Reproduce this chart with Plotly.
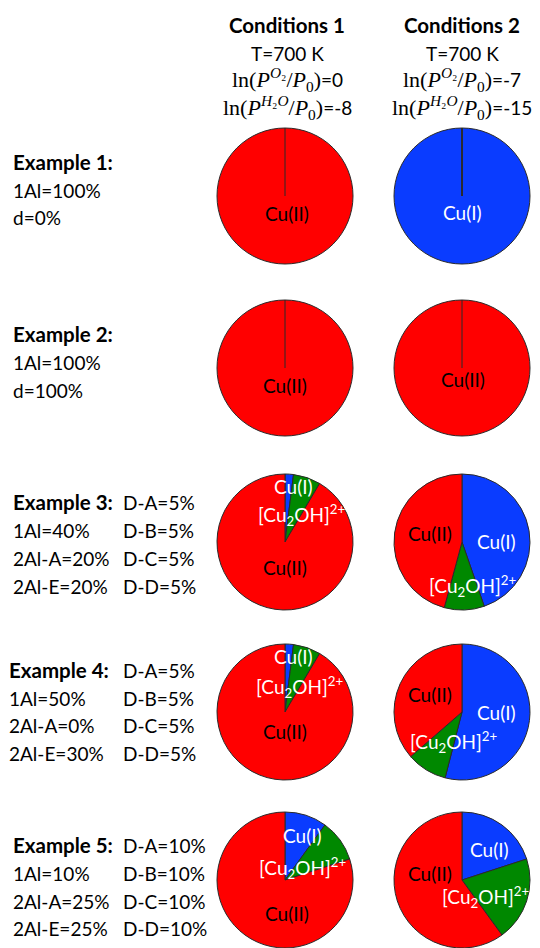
import plotly.graph_objects as go

# ---------------- data ----------------
species = ["Cu(I)", "[Cu2OH]2+", "Cu(II)"]
species_html = ["Cu(I)", "[Cu<sub>2</sub>OH]<sup>2+</sup>", "Cu(II)"]
examples = ["Example 1", "Example 2", "Example 3", "Example 4", "Example 5"]

# shares (%) under Conditions 1, one entry per example
cond1_cu1 = [0, 0, 2, 2, 10]
cond1_cu2oh = [0, 0, 6.5, 6.5, 10]
cond1_cu2 = [100, 100, 91.5, 91.5, 80]

# shares (%) under Conditions 2
cond2_cu1 = [100, 0, 44.7, 54, 20]
cond2_cu2oh = [0, 0, 9.5, 9.6, 20]
cond2_cu2 = [0, 100, 45.8, 36.4, 60]

condition_titles = ["Conditions 1", "Conditions 2"]
condition_T = ["T=700 K", "T=700 K"]
condition_lnO2 = ["0", "-7"]
condition_lnH2O = ["-8", "-15"]

example_lines_left = [
    ["Example 1:", "1Al=100%", "d=0%"],
    ["Example 2:", "1Al=100%", "d=100%"],
    ["Example 3:", "1Al=40%", "2Al-A=20%", "2Al-E=20%"],
    ["Example 4:", "1Al=50%", "2Al-A=0%", "2Al-E=30%"],
    ["Example 5:", "1Al=10%", "2Al-A=25%", "2Al-E=25%"],
]
example_lines_right = [
    [],
    [],
    ["D-A=5%", "D-B=5%", "D-C=5%", "D-D=5%"],
    ["D-A=5%", "D-B=5%", "D-C=5%", "D-D=5%"],
    ["D-A=10%", "D-B=10%", "D-C=10%", "D-D=10%"],
]

# ---------------- style / layout ----------------
W, H = 540, 948
COLORS = ["#0A3CFF", "#008800", "#FF0000"]
LABEL_COLORS = ["white", "white", "black"]
EDGE = "#2a2a2a"
SANS = "Lato, 'Open Sans', sans-serif"
COL_X = [285, 462]
ROW_Y = [196, 368, 542, 712, 880]
R = 68
# label offsets in units of radius (dx right, dy down), per [row][col][species]
LABEL_OFF = [
    [[None, None, (0.03, 0.26)], [(0.0, 0.25), None, None]],
    [[None, None, (0.0, 0.26)], [None, None, (0.02, 0.17)]],
    [[(0.12, -0.82), (0.24, -0.40), (0.0, 0.37)], [(0.5, -0.01), (0.16, 0.65), (-0.47, -0.12)]],
    [[(0.12, -0.82), (0.22, -0.37), (0.0, 0.29)], [(0.51, 0.01), (-0.12, 0.44), (-0.47, -0.26)]],
    [[(0.25, -0.66), (0.26, -0.18), (0.03, 0.49)], [(0.41, -0.45), (0.34, 0.25), (-0.47, -0.10)]],
]
LEFT_ROWS_Y = [
    [162, 190, 217],
    [334, 362, 390],
    [502, 530, 558, 586],
    [670, 698, 725, 753],
    [845, 873, 901, 928],
]
HEADER_Y = [25, 53, 80, 107]
LEFT_X = [11, 11, 11, 7, 11]
RIGHT_X = 121
FS = 19
FS_BOLD = 20.5
FS_SERIF = 22


def px(x):
    return min(1.0, max(0.0, x / W))


def py(y):
    return min(1.0, max(0.0, 1 - y / H))


cond_values = [
    (cond1_cu1, cond1_cu2oh, cond1_cu2),
    (cond2_cu1, cond2_cu2oh, cond2_cu2),
]

fig = go.Figure()
annotations = []
shapes = []

for ci, (a, b, c) in enumerate(cond_values):
    for ri in range(len(examples)):
        vals = [a[ri], b[ri], c[ri]]
        cx, cy = COL_X[ci], ROW_Y[ri]
        fig.add_trace(go.Pie(
            labels=species,
            values=vals,
            sort=False,
            direction="clockwise",
            rotation=0,
            marker=dict(colors=COLORS, line=dict(color=EDGE, width=1)),
            textinfo="none",
            hoverinfo="label+percent",
            showlegend=False,
            domain=dict(x=[px(cx - R), px(cx + R)], y=[py(cy + R), py(cy - R)]),
        ))
        # a slice covering the whole pie still shows its start seam at 12 o'clock
        if max(vals) == sum(vals):
            shapes.append(dict(type="line", xref="paper", yref="paper",
                               x0=px(cx), x1=px(cx), y0=py(cy), y1=py(cy - R),
                               line=dict(color=EDGE, width=1)))
        for si in range(3):
            off = LABEL_OFF[ri][ci][si]
            if vals[si] > 0 and off is not None:
                annotations.append(dict(
                    x=px(cx + off[0] * R), y=py(cy + off[1] * R),
                    xref="paper", yref="paper", showarrow=False,
                    xanchor="center", yanchor="middle",
                    text=species_html[si],
                    font=dict(family=SANS, size=FS, color=LABEL_COLORS[si]),
                ))

# column headers
serif_open = "<span style='font-family:Liberation Serif, DejaVu Serif, serif;font-size:%dpx'>" % FS_SERIF
for ci in range(2):
    cx = COL_X[ci] + (2 if ci == 0 else 0)
    header_texts = [
        "<b>" + condition_titles[ci] + "</b>",
        condition_T[ci],
        serif_open + "ln(<i>P</i><sup><i>O</i>₂</sup>/<i>P</i><sub>0</sub>)</span>=" + condition_lnO2[ci],
        serif_open + "ln(<i>P</i><sup><i>H</i>₂<i>O</i></sup>/<i>P</i><sub>0</sub>)</span>=" + condition_lnH2O[ci],
    ]
    for hi, txt in enumerate(header_texts):
        annotations.append(dict(x=px(cx), y=py(HEADER_Y[hi]), xref="paper", yref="paper", showarrow=False,
                                xanchor="center", yanchor="middle", text=txt, borderpad=0,
                                font=dict(family=SANS, size=FS_BOLD if hi == 0 else FS, color="black")))

# example descriptions
for ri in range(len(examples)):
    for li, line in enumerate(example_lines_left[ri]):
        bold = li == 0
        annotations.append(dict(x=px(LEFT_X[ri]), y=py(LEFT_ROWS_Y[ri][li]), xref="paper", yref="paper",
                                showarrow=False, xanchor="left", yanchor="middle",
                                text="<b>" + line + "</b>" if bold else line,
                                font=dict(family=SANS, size=FS_BOLD if bold else FS, color="black")))
    for li, line in enumerate(example_lines_right[ri]):
        annotations.append(dict(x=px(RIGHT_X), y=py(LEFT_ROWS_Y[ri][li]), xref="paper", yref="paper",
                                showarrow=False, xanchor="left", yanchor="middle", text=line,
                                font=dict(family=SANS, size=FS, color="black")))

fig.update_layout(
    width=W, height=H,
    margin=dict(l=0, r=0, t=0, b=0),
    paper_bgcolor="white",
    plot_bgcolor="white",
    annotations=annotations,
    shapes=shapes,
    showlegend=False,
)

fig.write_html("out.html", config={"displayModeBar": False},
               post_script="document.body.style.margin='0';")
